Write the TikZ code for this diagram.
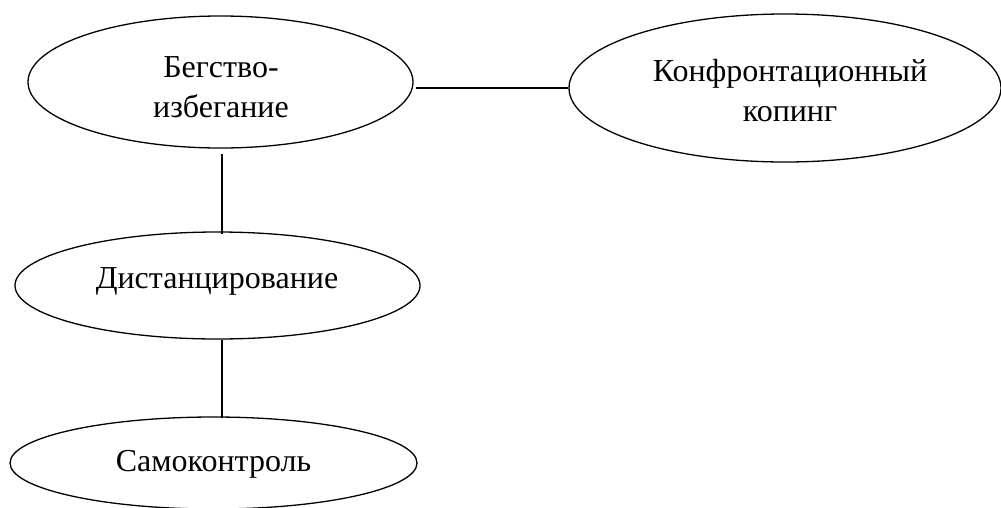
\documentclass[tikz,border=0pt]{standalone}
\usepackage{fontspec}
\setmainfont{Liberation Serif}
\usetikzlibrary{shapes.geometric}
\begin{document}
\begin{tikzpicture}[x=1pt,y=-1pt,
  oval/.style={draw, ellipse, line width=1.3pt, inner sep=0pt},
  caption/.style={inner sep=0pt, align=center, anchor=base,
    font=\fontsize{32}{40}\selectfont},
  link/.style={line width=1.3pt}]
\clip (0,0) rectangle (1001,507);
% ovals
\node[oval, minimum width=385pt, minimum height=132pt] (flight) at (220.5,82) {};
\node[oval, minimum width=432pt, minimum height=148pt] (cope) at (785,88) {};
\node[oval, minimum width=405pt, minimum height=107pt] (dist) at (217.5,285.5) {};
\node[oval, minimum width=407pt, minimum height=92pt] (self) at (213.5,463) {};
% captions, placed on their last baseline
\node[caption] (flightT) at (221,117) {Бегство-\\избегание};
\node[caption] (copeT) at (790,121) {Конфронтационный\\копинг};
\node[caption] (distT) at (217,288) {Дистанцирование};
\node[caption] (selfT) at (213.5,471) {Самоконтроль};
% connectors
\draw[link] ([xshift=2pt]cope.west -| flight.east) -- (cope.west);
\draw[link] ([xshift=1.5pt,yshift=-5pt]flight.south) -- ([xshift=1.5pt,yshift=-3pt]dist.north -| flight.south);
\draw[link] ([xshift=1.5pt]dist.south -| flight.south) -- ([xshift=1.5pt,yshift=-2pt]self.north -| flight.south);
\end{tikzpicture}
\end{document}
